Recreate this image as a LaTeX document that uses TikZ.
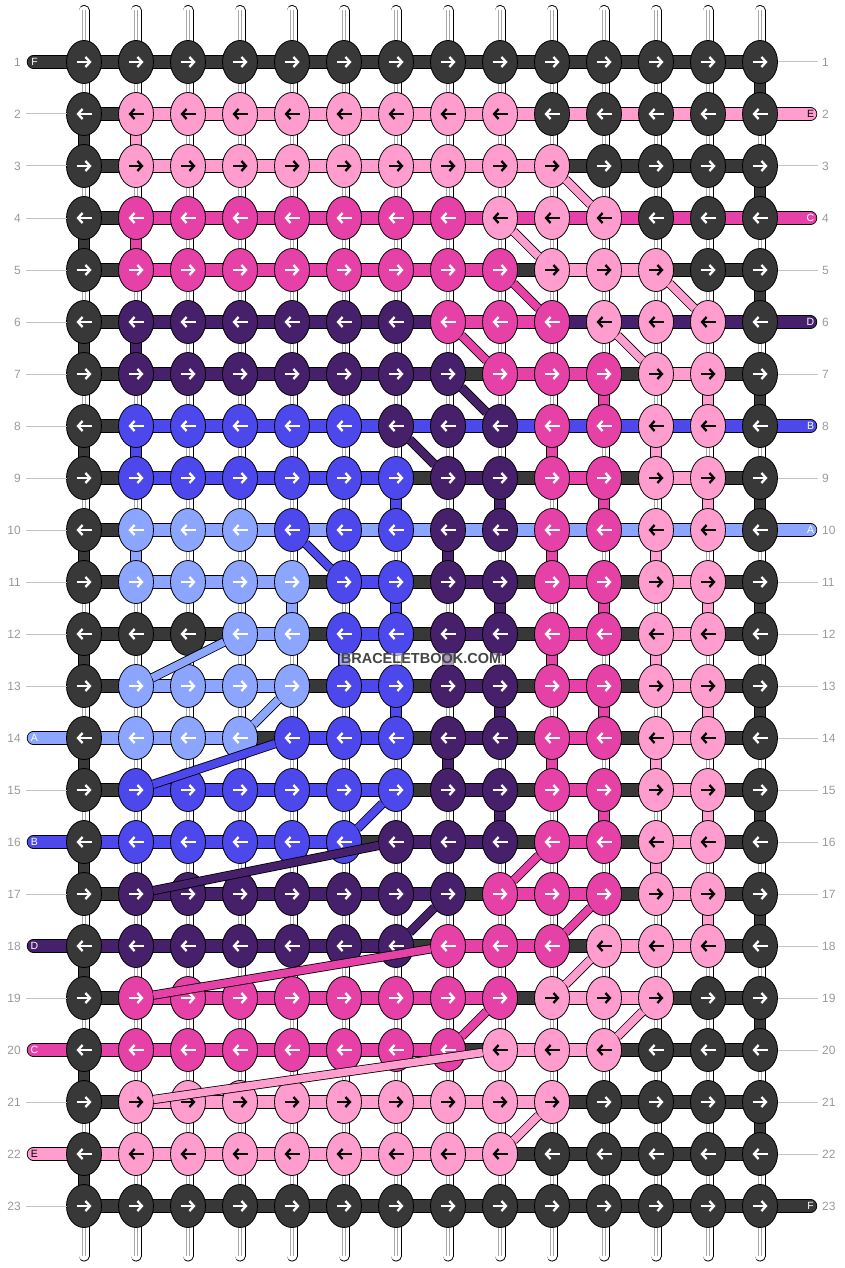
\documentclass[tikz,border=0pt]{standalone}
\usepackage{fontspec}
\setmainfont{Liberation Sans}
\usetikzlibrary{shapes.geometric, arrows.meta}
\definecolor{colF}{HTML}{383838}
\definecolor{colE}{HTML}{FF9ECE}
\definecolor{colC}{HTML}{E641A7}
\definecolor{colD}{HTML}{47206B}
\definecolor{colB}{HTML}{4D48EC}
\definecolor{colA}{HTML}{8CA6FF}
\colorlet{arrF}{white}
\colorlet{arrE}{black}
\colorlet{arrC}{white}
\colorlet{arrD}{white}
\colorlet{arrB}{white}
\colorlet{arrA}{white}
\definecolor{numgray}{HTML}{9A9A9A}
\definecolor{guidegray}{HTML}{C4C4C4}
\definecolor{warpgray}{HTML}{A8A8A8}
\definecolor{markgray}{HTML}{444444}
\pgfdeclarelayer{warp}
\pgfdeclarelayer{strand}
\pgfdeclarelayer{front}
\pgfsetlayers{warp,strand,main,front}
\tikzset{
    knot/.style = {draw, ellipse, line width=.8pt, minimum width=35pt, minimum height=43pt, inner sep=0pt, outer sep=0pt, fill=col#1},
    warpedge/.style = {draw=black, line width=11pt, line cap=round},
    warp/.style = {draw=white, line width=9.2pt, line cap=round},
    warpline/.style = {draw=warpgray, line width=.7pt},
    seg/.style = {draw=black, line width=.8pt, double=col#1, double distance=11.8pt},
    tail/.style = {seg=#1, line cap=round},
    vseg/.style = {draw=black, line width=.8pt, double=col#1, double distance=9.6pt},
    diag/.style = {draw=black, line width=.8pt, double=col#1, double distance=7.6pt},
    knotarrow/.style = {draw=arr#1, line width=2.3pt, -{Straight Barb[length=4.5pt, width=10pt]}},
    guide/.style = {draw=guidegray, line width=1pt},
    num/.style = {text=numgray, font=\fontsize{12}{12}\selectfont, inner sep=0pt},
    tagtext/.style = {text=arr#1, font=\fontsize{10.5}{10.5}\selectfont, inner sep=0pt}
}

\begin{document}
\begin{tikzpicture}[x=1pt, y=-1pt]
    \useasboundingbox (0,0) rectangle (844,1268);
    % row / knot colours / strand colours between knots
    \def\rows{1/{F,F,F,F,F,F,F,F,F,F,F,F,F,F}/{F,F,F,F,F,F,F,F,F,F,F,F,F},
        2/{F,E,E,E,E,E,E,E,E,F,F,F,F,F}/{F,E,E,E,E,E,E,E,E,E,E,E,E},
        3/{F,E,E,E,E,E,E,E,E,E,F,F,F,F}/{F,E,E,E,E,E,E,E,E,F,F,F,F},
        4/{F,C,C,C,C,C,C,C,E,E,E,F,F,F}/{F,C,C,C,C,C,C,C,C,C,C,C,C},
        5/{F,C,C,C,C,C,C,C,C,E,E,E,F,F}/{F,C,C,C,C,C,C,C,F,E,E,F,F},
        6/{F,D,D,D,D,D,D,C,C,C,E,E,E,F}/{F,D,D,D,D,D,D,C,C,D,D,D,D},
        7/{F,D,D,D,D,D,D,D,C,C,C,E,E,F}/{F,D,D,D,D,D,D,F,C,C,F,E,F},
        8/{F,B,B,B,B,B,D,D,D,C,C,E,E,F}/{F,B,B,B,B,B,B,B,B,B,B,B,B},
        9/{F,B,B,B,B,B,B,D,D,C,C,E,E,F}/{F,B,B,B,B,B,F,D,F,C,F,E,F},
        10/{F,A,A,A,B,B,B,D,D,C,C,E,E,F}/{F,A,A,A,A,A,A,A,A,A,A,A,A},
        11/{F,A,A,A,A,B,B,D,D,C,C,E,E,F}/{F,A,A,A,F,B,F,D,F,C,F,E,F},
        12/{F,F,F,A,A,B,B,D,D,C,C,E,E,F}/{F,F,F,A,F,B,F,D,F,C,F,E,F},
        13/{F,A,A,A,A,B,B,D,D,C,C,E,E,F}/{F,A,A,A,F,B,F,D,F,C,F,E,F},
        14/{F,A,A,A,B,B,B,D,D,C,C,E,E,F}/{A,A,A,F,B,B,F,D,F,C,F,E,F},
        15/{F,B,B,B,B,B,B,D,D,C,C,E,E,F}/{F,B,B,B,B,B,F,D,F,C,F,E,F},
        16/{F,B,B,B,B,B,D,D,D,C,C,E,E,F}/{B,B,B,B,B,F,D,D,F,C,F,E,F},
        17/{F,D,D,D,D,D,D,D,C,C,C,E,E,F}/{F,D,D,D,D,D,D,F,C,C,F,E,F},
        18/{F,D,D,D,D,D,D,C,C,C,E,E,E,F}/{D,D,D,D,D,D,F,C,C,F,E,E,F},
        19/{F,C,C,C,C,C,C,C,C,E,E,E,F,F}/{F,C,C,C,C,C,C,C,F,E,E,F,F},
        20/{F,C,C,C,C,C,C,C,E,E,E,F,F,F}/{C,C,C,C,C,C,C,F,E,E,F,F,F},
        21/{F,E,E,E,E,E,E,E,E,E,F,F,F,F}/{F,E,E,E,E,E,E,E,E,F,F,F,F},
        22/{F,E,E,E,E,E,E,E,E,F,F,F,F,F}/{E,E,E,E,E,E,E,E,F,F,F,F,F},
        23/{F,F,F,F,F,F,F,F,F,F,F,F,F,F}/{F,F,F,F,F,F,F,F,F,F,F,F,F}}

    % knots
    \foreach \r/\kn/\sg in \rows {
        \foreach \k [count=\c] in \kn {
            \node (k-\r-\c) [knot=\k] at ({32+52*\c},{10+52*\r}) {};
            \ifodd\r
                \draw[knotarrow=\k] ([xshift=-7.5pt]k-\r-\c.center) -- ([xshift=7.5pt]k-\r-\c.center);
            \else
                \draw[knotarrow=\k] ([xshift=7.5pt]k-\r-\c.center) -- ([xshift=-7.5pt]k-\r-\c.center);
            \fi
        }
    }

    % white base strings
    \begin{pgfonlayer}{warp}
    \foreach \c in {1,...,14} {
        \coordinate (top-\c) at ([yshift=51.5pt]k-1-\c.center);
        \coordinate (bot-\c) at ([yshift=-50pt]k-23-\c.center);
        \draw[warpedge] (top-\c) -- (bot-\c);
        \draw[warp] (top-\c) -- (bot-\c);
        \draw[warpline] ([xshift=-1.3pt]top-\c) -- ([xshift=-1.3pt]bot-\c);
        \draw[warpline] ([xshift=1.3pt]top-\c) -- ([xshift=1.3pt]bot-\c);
    }
    \end{pgfonlayer}

    % strands along the rows
    \begin{pgfonlayer}{strand}
    \foreach \r/\kn/\sg in \rows {
        \foreach \s [count=\c] in \sg {
            \pgfmathtruncatemacro\cn{\c+1}
            \draw[seg=\s] (k-\r-\c.center) -- (k-\r-\cn.center);
        }
    }
    % strands going straight down
    \foreach \r in {2,4,...,22} {
        \pgfmathtruncatemacro\rn{\r+1}
        \draw[vseg=F] (k-\r-1.center) -- (k-\rn-1.center);
    }
    \foreach \r in {1,3,...,21} {
        \pgfmathtruncatemacro\rn{\r+1}
        \draw[vseg=F] (k-\r-14.center) -- (k-\rn-14.center);
    }
    \foreach \r/\c/\s in {2/2/E, 4/2/C, 6/2/D, 7/11/C, 7/13/E, 8/12/E, 8/10/C, 8/2/B,
                          9/7/B, 9/9/D, 9/11/C, 9/13/E, 10/12/E, 10/10/C, 10/8/D, 10/2/A,
                          11/5/A, 11/7/B, 11/9/D, 11/11/C, 11/13/E, 12/12/E, 12/10/C, 12/8/D, 12/6/B,
                          13/7/B, 13/9/D, 13/11/C, 13/13/E, 14/12/E, 14/10/C, 14/8/D,
                          15/9/D, 15/11/C, 15/13/E, 16/12/E, 17/13/E} {
        \pgfmathtruncatemacro\rn{\r+1}
        \draw[vseg=\s] (k-\r-\c.center) -- (k-\rn-\c.center);
    }
    \end{pgfonlayer}

    % loose ends with letters, guide lines and row numbers
    \foreach \r/\s in {1/F, 14/A, 16/B, 18/D, 20/C, 22/E} {
        \coordinate (endl-\r) at ([xshift=-50.5pt]k-\r-1.center);
        \begin{pgfonlayer}{strand}
            \draw[tail=\s] (k-\r-1.center) -- (endl-\r);
        \end{pgfonlayer}
        \node (tagl-\r) [tagtext=\s] at ([xshift=1pt]endl-\r) {\s};
    }
    \foreach \r/\s in {2/E, 4/C, 6/D, 8/B, 10/A, 23/F} {
        \coordinate (endr-\r) at ([xshift=50.5pt]k-\r-14.center);
        \begin{pgfonlayer}{strand}
            \draw[tail=\s] (k-\r-14.center) -- (endr-\r);
        \end{pgfonlayer}
        \node (tagr-\r) [tagtext=\s] at (endr-\r) {\s};
    }
    \foreach \r in {2,...,13,15,17,19,21,23} {
        \coordinate (gl-\r) at ([xshift=-58pt]k-\r-1.center);
        \draw[guide] (k-\r-1) -- (gl-\r);
    }
    \foreach \r in {1,3,5,7,9,11,12,...,22} {
        \coordinate (gr-\r) at ([xshift=58pt]k-\r-14.center);
        \draw[guide] (k-\r-14) -- (gr-\r);
    }
    \foreach \r in {1,...,23} {
        \node (numl-\r) [num, anchor=east] at ([xshift=-63pt]k-\r-1.center) {\r};
        \node (numr-\r) [num, anchor=west] at ([xshift=62pt]k-\r-14.center) {\r};
    }

    % strands moving to another column
    \begin{pgfonlayer}{front}
    \foreach \ra/\ca/\rb/\cb/\s in {3/10/4/11/E, 4/9/5/10/E, 5/9/6/10/C, 5/12/6/13/E, 6/8/7/9/C,
                                    6/11/7/12/E, 7/8/8/9/D, 8/7/9/8/D, 10/5/11/6/B,
                                    12/4/13/2/A, 13/5/14/4/A, 14/5/15/2/B, 15/7/16/6/B, 16/10/17/9/C,
                                    16/7/17/2/D, 17/8/18/7/D, 17/11/18/10/C, 18/11/19/10/E, 18/8/19/2/C,
                                    19/9/20/8/C, 19/12/20/11/E, 20/9/21/2/E, 21/10/22/9/E} {
        \draw[diag=\s] (k-\ra-\ca) -- (k-\rb-\cb);
    }
    \node (mark) [font=\bfseries\fontsize{14.5}{14.5}\selectfont, text=markgray, fill=white,
                  fill opacity=.55, text opacity=1, inner sep=1pt] at (421,659) {BRACELETBOOK.COM};
    \end{pgfonlayer}
\end{tikzpicture}
\end{document}
